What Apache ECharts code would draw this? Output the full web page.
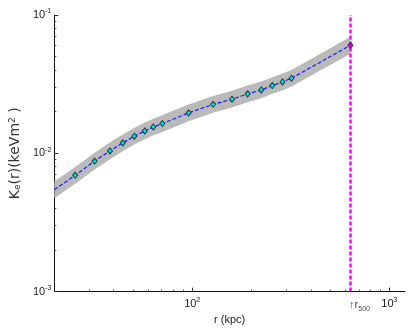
<!DOCTYPE html>
<html>
<head>
<meta charset="utf-8">
<script src="https://cdn.jsdelivr.net/npm/echarts@6/dist/echarts.min.js"></script>
<style>
html,body{margin:0;padding:0;background:#fff}
#chart{width:409px;height:330px}
</style>
</head>
<body>
<div id="chart"></div>
<script>
// model profile (line + grey band), r in kpc
var fitR = [20, 25.5, 32, 38.3, 44.5, 50.9, 57.5, 63.5, 70.6, 95.9, 127.7, 159.2, 191.1, 224.2, 254.7, 287.1, 318.9, 635];
var fitK = [0.00545, 0.00693, 0.00879, 0.0104, 0.0119, 0.0133, 0.0145, 0.0155, 0.0164, 0.0196, 0.0226, 0.0246, 0.0269, 0.0287, 0.0309, 0.0328, 0.0349, 0.0604];
var bandHi = [0.00627, 0.00797, 0.0101, 0.0120, 0.0137, 0.0153, 0.0167, 0.0178, 0.0189, 0.0225, 0.0260, 0.0283, 0.0309, 0.0330, 0.0355, 0.0377, 0.0401, 0.0695];
var bandLo = [0.00474, 0.00603, 0.00765, 0.00905, 0.01035, 0.01157, 0.01262, 0.01349, 0.01427, 0.01705, 0.01966, 0.0214, 0.0234, 0.0250, 0.0269, 0.0285, 0.0304, 0.0525];

// measured points
var dataR = [25.5, 32, 38.3, 44.5, 50.9, 57.5, 63.5, 70.6, 95.9, 127.7, 159.2, 191.1, 224.2, 254.7, 287.1, 318.9];
var dataK = [0.00693, 0.00879, 0.0104, 0.0119, 0.0133, 0.0145, 0.0155, 0.0164, 0.0196, 0.0226, 0.0246, 0.0269, 0.0287, 0.0309, 0.0328, 0.0349];

var r500 = 635;
var r500K = 0.0604;

// axes
var xMin = 20, xMax = 1200;
var yMin = 0.001, yMax = 0.1;
var xTicks = [100, 1000];
var xTickExp = ['2', '3'];
var xMinor = [30, 40, 50, 60, 70, 80, 90, 200, 300, 400, 500, 600, 700, 800, 900];
var yTicks = [0.001, 0.01, 0.1];
var yTickExp = ['-3', '-2', '-1'];
var yMinor = [0.002, 0.003, 0.004, 0.005, 0.006, 0.007, 0.008, 0.009, 0.02, 0.03, 0.04, 0.05, 0.06, 0.07, 0.08, 0.09];

var FONT = 'Liberation Sans, Arial, sans-serif';
var NAMEFONT = 'DejaVu Sans, sans-serif';
var supRich = {
    base: { fontSize: 11, lineHeight: 14, color: '#222', fontFamily: FONT },
    sup: { fontSize: 7, lineHeight: 14, verticalAlign: 'top', color: '#222', fontFamily: FONT },
    sub: { fontSize: 7, lineHeight: 14, verticalAlign: 'bottom', color: '#222', fontFamily: FONT }
};

function expLabel(ticks, exps) {
    return function (v) {
        var best = 0;
        for (var i = 1; i < ticks.length; i++) {
            if (Math.abs(Math.log(v / ticks[i])) < Math.abs(Math.log(v / ticks[best]))) best = i;
        }
        return '{base|10}{sup|' + exps[best] + '}';
    };
}

function pairs(a, b) {
    return a.map(function (v, i) { return [v, b[i]]; });
}

var myChart = echarts.init(document.getElementById('chart'));

var option = {
    backgroundColor: '#fff',
    animation: false,
    grid: { left: 53, right: 4, top: 15, bottom: 38 },
    xAxis: [
        {
            type: 'log', logBase: 10, min: xMin, max: xMax,
            name: 'r (kpc)', nameLocation: 'middle', nameGap: 22,
            nameTextStyle: { fontSize: 11, color: '#222', fontFamily: FONT },
            axisLine: { lineStyle: { color: '#111', width: 1 } },
            axisTick: { inside: true, length: 4, customValues: xTicks, lineStyle: { color: '#333' } },
            axisLabel: { customValues: xTicks, margin: 5, formatter: expLabel(xTicks, xTickExp), rich: supRich },
            splitLine: { show: false }
        },
        {
            type: 'log', logBase: 10, min: xMin, max: xMax, position: 'bottom', gridIndex: 0,
            axisLine: { show: false },
            axisTick: { inside: true, length: 2, customValues: xMinor, lineStyle: { color: '#555' } },
            axisLabel: { show: false },
            splitLine: { show: false }
        }
    ],
    yAxis: [
        {
            type: 'log', logBase: 10, min: yMin, max: yMax,
            name: 'K{sub|e}(r)(keVm{sup|2} )', nameLocation: 'middle', nameGap: 16, nameRotate: 90,
            nameTextStyle: {
                fontSize: 14, color: '#333', fontFamily: NAMEFONT,
                rich: {
                    sub: { fontSize: 9, verticalAlign: 'bottom', color: '#333', fontFamily: NAMEFONT },
                    sup: { fontSize: 9, verticalAlign: 'top', color: '#333', fontFamily: NAMEFONT }
                }
            },
            axisLine: { lineStyle: { color: '#111', width: 1 } },
            axisTick: { inside: true, length: 4, customValues: yTicks, lineStyle: { color: '#333' } },
            axisLabel: { customValues: yTicks, margin: 3, formatter: expLabel(yTicks, yTickExp), rich: supRich },
            splitLine: { show: false }
        },
        {
            type: 'log', logBase: 10, min: yMin, max: yMax, position: 'left', offset: 0,
            axisLine: { show: false },
            axisTick: { inside: true, length: 2, customValues: yMinor, lineStyle: { color: '#555' } },
            axisLabel: { show: false },
            splitLine: { show: false }
        }
    ],
    series: [
        {
            name: 'band',
            type: 'custom',
            silent: true,
            z: 1,
            renderItem: function (params, api) {
                if (params.dataIndex !== 0) return null;
                var pts = [];
                for (var i = 0; i < fitR.length; i++) pts.push(api.coord([fitR[i], bandHi[i]]));
                for (var j = fitR.length - 1; j >= 0; j--) pts.push(api.coord([fitR[j], bandLo[j]]));
                return { type: 'polygon', shape: { points: pts }, style: { fill: '#bababa' } };
            },
            data: pairs(fitR, fitK)
        },
        {
            name: 'fit',
            type: 'line',
            z: 2,
            symbol: 'none',
            lineStyle: { color: '#1a1aff', width: 1.2, type: [4, 2] },
            data: pairs(fitR, fitK)
        },
        {
            name: 'r500',
            type: 'line',
            z: 3,
            symbol: 'none',
            lineStyle: { color: '#ff00ff', width: 2.5, type: [4, 2] },
            data: [[r500, yMin], [r500, yMax]]
        },
        {
            name: 'data',
            type: 'scatter',
            z: 4,
            symbol: 'diamond',
            symbolSize: [5, 6],
            itemStyle: { color: '#00e0e0', borderColor: '#1a3a3a', borderWidth: 1, opacity: 1 },
            data: pairs(dataR, dataK)
        },
        {
            name: 'r500pt',
            type: 'scatter',
            z: 5,
            symbol: 'diamond',
            symbolSize: [5, 6],
            itemStyle: { color: '#e000e0', borderColor: '#601060', borderWidth: 1, opacity: 1 },
            data: [[r500, r500K]]
        },
        {
            name: 'r500label',
            type: 'scatter',
            z: 5,
            symbolSize: 1,
            itemStyle: { color: 'rgba(0,0,0,0)' },
            label: {
                show: true, position: 'bottom', distance: 6, offset: [9, 0],
                formatter: '{base|\u2191r}{sub|500}',
                rich: supRich
            },
            data: [[r500, yMin]]
        }
    ]
};
myChart.setOption(option);
</script>
</body>
</html>
